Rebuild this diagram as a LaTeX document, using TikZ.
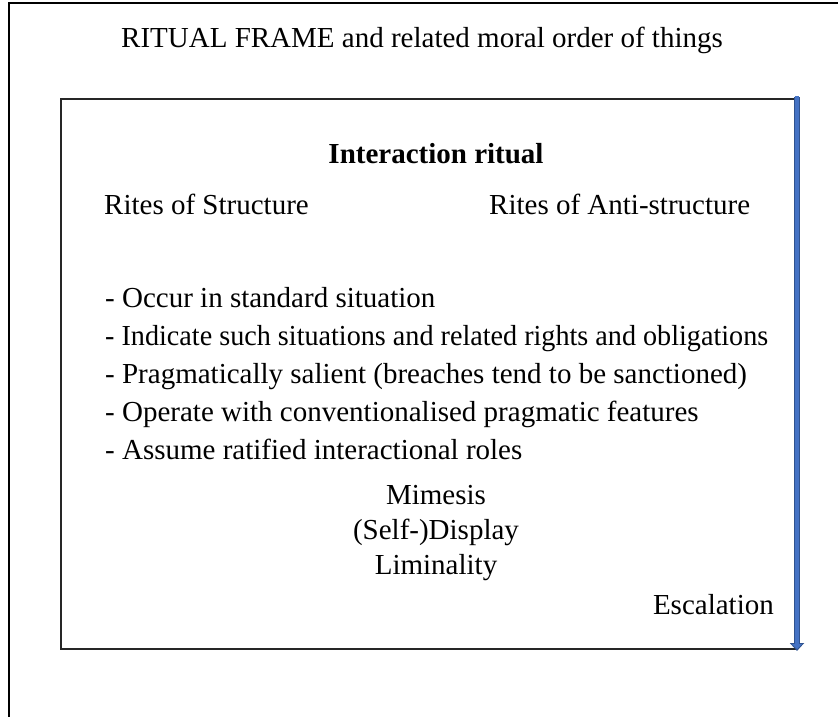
\documentclass[tikz,border=0pt]{standalone}
\usepackage{fontspec}
\setmainfont{Liberation Serif}
\usetikzlibrary{arrows.meta}
\definecolor{offblue}{RGB}{68,114,196}
\definecolor{offdark}{RGB}{47,82,143}
\begin{document}
\begin{tikzpicture}[x=1pt,y=-1pt,
  txt/.style={inner sep=0pt,font=\fontsize{29}{32}\selectfont},
  frameline/.style={line width=2pt,black}]
\useasboundingbox (0,0) rectangle (838,717);
\clip (0,0) rectangle (838,717);
% outer frame (extends beyond the picture)
\draw[frameline] (9,900) -- (9,3) -- (900,3);
% inner box
\draw[frameline,draw=black!85] (61,99) rectangle (797,649);
% blue arrow
\coordinate (atop) at (797,97);
\coordinate (abot) at (797,651);
\draw[line width=6.5pt,offdark,-{Triangle[width=14pt,length=8pt]}] (atop) -- (abot);
\draw[line width=4pt,offblue,shorten >=2pt,-{Triangle[width=10pt,length=5pt]}] ([yshift=1pt]atop) -- (abot);
% texts
\node[txt,anchor=base] (title) at (422,48) {RITUAL FRAME and related moral order of things};
\node[txt,anchor=base,font=\fontsize{29}{32}\selectfont\bfseries] (ir) at (436,163) {Interaction ritual};
\node[txt,anchor=base west] (rs) at (104,214) {Rites of Structure};
\node[txt,anchor=base west] (ras) at (489,214) {Rites of Anti-structure};
\node[txt,anchor=base west] (l1) at (105,307) {- Occur in standard situation};
\node[txt,anchor=base west] (l2) at (105,345) {\resizebox{663pt}{\height}{- Indicate such situations and related rights and obligations}};
\node[txt,anchor=base west] (l3) at (105,383) {- Pragmatically salient (breaches tend to be sanctioned)};
\node[txt,anchor=base west] (l4) at (105,421) {- Operate with conventionalised pragmatic features};
\node[txt,anchor=base west] (l5) at (105,459) {- Assume ratified interactional roles};
\node[txt,anchor=base] (m1) at (436,504) {Mimesis};
\node[txt,anchor=base] (m2) at (436,539) {(Self-)Display};
\node[txt,anchor=base] (m3) at (436,574) {Liminality};
\node[txt,anchor=base east] (esc) at (774,614) {Escalation};
\end{tikzpicture}
\end{document}
